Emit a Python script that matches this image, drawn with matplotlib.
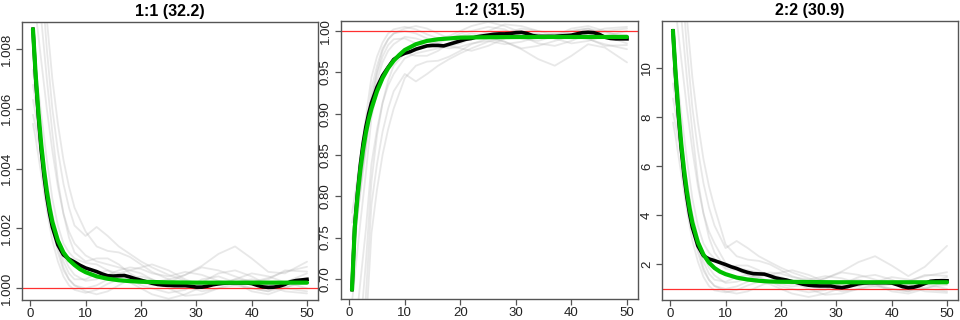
import matplotlib
matplotlib.use("Agg")
import matplotlib.pyplot as plt

plt.rcParams['font.family'] = ['Liberation Sans', 'DejaVu Sans']

titles = ["1:1 (32.2)", "1:2 (31.5)", "2:2 (30.9)"]

# ---------- main curves ----------
x_green = [0.5, 1, 1.5, 2, 2.5, 3, 3.5, 4, 5, 6, 7, 8, 9, 10, 12, 14, 16, 18, 20, 25, 30, 35, 40, 45, 50]
green_11 = [1.00866, 1.0071, 1.00585, 1.0048, 1.00395, 1.00325, 1.00268, 1.00222, 1.0016, 1.0012, 1.00095,
            1.00078, 1.00064, 1.00054, 1.0004, 1.00032, 1.00027, 1.00024, 1.00022, 1.0002, 1.00019, 1.00019,
            1.00019, 1.00019, 1.00019]
green_12 = [0.687, 0.762, 0.800, 0.832, 0.857, 0.877, 0.893, 0.906, 0.927, 0.943, 0.955, 0.964, 0.971, 0.977,
            0.984, 0.988, 0.990, 0.991, 0.992, 0.9925, 0.9927, 0.9928, 0.9928, 0.9928, 0.9928]
green_22 = [11.5, 9.7, 8.2, 6.9, 5.85, 4.98, 4.27, 3.7, 2.9, 2.4, 2.07, 1.85, 1.7, 1.6, 1.46, 1.38, 1.33, 1.3,
            1.29, 1.28, 1.27, 1.27, 1.27, 1.27, 1.27]

x_black = [0.5, 1, 1.5, 2, 2.5, 3, 3.5, 4, 5, 6, 7, 8, 9, 10, 11, 12, 13, 14, 15, 16, 17, 18, 19, 20, 21, 22,
           23, 24, 25, 26, 27, 28, 29, 30, 31, 32, 33, 34, 35, 36, 37, 38, 39, 40, 41, 42, 43, 44, 45, 46, 47,
           48, 49, 50]
black_11 = [1.00866, 1.0070, 1.0057, 1.0046, 1.00375, 1.00305, 1.0025, 1.00205, 1.00145, 1.00112, 1.00098,
            1.00088, 1.00077, 1.00068, 1.00062, 1.00056, 1.00048, 1.00042, 1.00041, 1.00042, 1.00043, 1.00038,
            1.00032, 1.00027, 1.00022, 1.00017, 1.00013, 1.00011, 1.0001, 1.00009, 1.00009, 1.00009, 1.00007,
            1.00004, 1.00004, 1.00007, 1.00012, 1.00015, 1.00017, 1.00018, 1.00018, 1.00018, 1.00018, 1.00016,
            1.0001, 1.00005, 1.00003, 1.00004, 1.00007, 1.00013, 1.00022, 1.00026, 1.00028, 1.0003]
black_12 = [0.687, 0.765, 0.805, 0.838, 0.864, 0.884, 0.900, 0.913, 0.932, 0.946, 0.956, 0.9655, 0.970, 0.973,
            0.975, 0.978, 0.980, 0.982, 0.9825, 0.9825, 0.982, 0.984, 0.986, 0.988, 0.990, 0.991, 0.993, 0.994,
            0.995, 0.996, 0.9965, 0.9965, 0.997, 0.998, 0.9984, 0.997, 0.9945, 0.9935, 0.9935, 0.9935, 0.9935,
            0.994, 0.9945, 0.995, 0.9965, 0.998, 0.9985, 0.998, 0.996, 0.9925, 0.991, 0.9905, 0.9905, 0.9905]
black_22 = [11.5, 9.6, 8.0, 6.7, 5.6, 4.75, 4.05, 3.5, 2.75, 2.35, 2.22, 2.15, 2.07, 1.99, 1.9, 1.83, 1.74,
            1.67, 1.62, 1.61, 1.6, 1.53, 1.45, 1.4, 1.36, 1.3, 1.25, 1.19, 1.15, 1.13, 1.12, 1.12, 1.12, 1.07,
            1.05, 1.09, 1.15, 1.21, 1.24, 1.25, 1.25, 1.25, 1.25, 1.24, 1.17, 1.09, 1.05, 1.07, 1.13, 1.22, 1.31,
            1.33, 1.33, 1.33]

# ---------- individual (gray) curves ----------
x_gray = [0.5, 1, 2, 3, 4, 5, 6, 7, 8, 10, 12, 14, 16, 18, 20, 22, 25, 28, 31, 34, 37, 40, 43, 46, 50]

gray_11_milli = [
    [14.0, 13.0, 10.5, 8.0, 6.0, 4.6, 3.5, 2.7, 2.1, 1.75, 2.05, 1.75, 1.4, 1.15, 0.9, 0.7, 0.45, 0.25, 0.1, 0.15, 0.3, 0.25, 0.1, 0.2, 0.35],
    [16.0, 14.5, 11.5, 9.0, 7.0, 5.5, 4.3, 3.4, 2.7, 1.9, 1.4, 1.25, 1.2, 1.05, 0.8, 0.55, 0.3, 0.45, 0.75, 1.15, 1.4, 1.0, 0.55, 0.5, 0.89],
    [7.3, 6.5, 4.8, 3.2, 2.0, 1.2, 0.6, 0.3, 0.1, 0.0, 0.1, 0.3, 0.5, 0.6, 0.5, 0.3, 0.0, -0.25, -0.2, 0.0, 0.2, 0.3, 0.2, 0.0, -0.1],
    [6.3, 5.8, 4.6, 3.5, 2.5, 1.7, 1.1, 0.7, 0.45, 0.25, 0.3, 0.45, 0.6, 0.7, 0.65, 0.5, 0.4, 0.55, 0.45, 0.25, 0.1, 0.2, 0.35, 0.55, 0.72],
    [5.5, 5.0, 3.8, 2.6, 1.6, 0.9, 0.4, 0.1, -0.05, -0.15, -0.05, 0.15, 0.3, 0.2, 0.0, -0.2, -0.35, -0.2, 0.05, 0.25, 0.2, 0.0, -0.1, 0.05, 0.17],
    [10.0, 9.2, 7.6, 6.0, 4.6, 3.4, 2.5, 1.9, 1.5, 1.1, 0.9, 0.8, 0.7, 0.6, 0.7, 0.8, 0.6, 0.3, 0.1, 0.1, 0.3, 0.5, 0.4, 0.2, 0.0],
    [8.2, 7.4, 5.8, 4.3, 3.0, 2.1, 1.5, 1.2, 1.0, 0.85, 0.8, 0.6, 0.4, 0.3, 0.2, 0.1, 0.2, 0.45, 0.7, 0.6, 0.4, 0.2, 0.3, 0.6, 0.56],
    [6.8, 6.2, 4.9, 3.6, 2.4, 1.4, 0.7, 0.3, 0.1, -0.1, -0.2, -0.1, 0.1, 0.3, 0.4, 0.3, 0.1, 0.0, 0.2, 0.5, 0.6, 0.4, 0.1, -0.1, -0.17],
    [11.0, 10.5, 9.0, 7.0, 5.2, 3.6, 2.5, 1.7, 1.2, 0.9, 1.0, 1.0, 0.8, 0.5, 0.3, 0.2, 0.3, 0.1, -0.1, 0.0, 0.1, 0.0, -0.1, 0.2, 0.5],
    [5.8, 5.4, 4.4, 3.3, 2.3, 1.5, 0.9, 0.5, 0.3, 0.3, 0.5, 0.6, 0.5, 0.3, 0.1, 0.0, -0.15, -0.05, 0.3, 0.4, 0.2, -0.1, -0.2, 0.0, 0.33],
]

gray_12 = [
    [0.44, 0.48, 0.58, 0.68, 0.79, 0.839, 0.878, 0.906, 0.927, 0.948, 0.939, 0.948, 0.958, 0.966, 0.973, 0.979, 0.987, 0.993, 0.997, 0.996, 0.991, 0.993, 0.997, 0.994, 0.990],
    [0.36, 0.42, 0.54, 0.64, 0.755, 0.808, 0.85, 0.881, 0.906, 0.943, 0.958, 0.963, 0.964, 0.969, 0.976, 0.984, 0.991, 0.987, 0.978, 0.966, 0.958, 0.970, 0.984, 0.980, 0.962],
    [0.708, 0.74, 0.808, 0.872, 0.93, 0.958, 0.979, 0.990, 0.997, 1.0, 0.997, 0.991, 0.985, 0.982, 0.985, 0.991, 1.0, 1.008, 1.006, 1.0, 0.994, 0.991, 0.994, 1.0, 1.003],
    [0.748, 0.768, 0.816, 0.86, 0.913, 0.94, 0.962, 0.976, 0.984, 0.993, 0.991, 0.987, 0.982, 0.979, 0.981, 0.985, 0.988, 0.984, 0.987, 0.993, 0.997, 0.994, 0.990, 0.984, 0.978],
    [0.78, 0.8, 0.848, 0.896, 0.944, 0.969, 0.986, 0.997, 1.002, 1.005, 1.002, 0.996, 0.991, 0.994, 1.0, 1.006, 1.011, 1.006, 0.998, 0.993, 0.994, 1.0, 1.003, 0.998, 0.995],
    [0.6, 0.632, 0.696, 0.76, 0.839, 0.881, 0.913, 0.934, 0.948, 0.967, 0.973, 0.976, 0.979, 0.982, 0.979, 0.976, 0.982, 0.991, 0.997, 0.997, 0.991, 0.985, 0.988, 0.994, 1.0],
    [0.672, 0.704, 0.768, 0.828, 0.895, 0.927, 0.948, 0.958, 0.965, 0.975, 0.976, 0.982, 0.988, 0.991, 0.994, 0.997, 0.994, 0.987, 0.979, 0.982, 0.988, 0.994, 0.991, 0.982, 0.983],
    [0.728, 0.752, 0.804, 0.856, 0.916, 0.951, 0.976, 0.990, 0.997, 1.003, 1.006, 1.003, 0.997, 0.991, 0.988, 0.991, 0.997, 1.0, 0.994, 0.985, 0.982, 0.988, 0.997, 1.003, 1.005],
    [0.56, 0.58, 0.64, 0.72, 0.818, 0.874, 0.913, 0.94, 0.958, 0.973, 0.97, 0.97, 0.976, 0.985, 0.991, 0.994, 0.991, 0.997, 1.003, 1.0, 0.997, 1.0, 1.003, 0.994, 0.985],
    [0.768, 0.784, 0.824, 0.868, 0.92, 0.948, 0.969, 0.983, 0.990, 0.991, 0.985, 0.982, 0.985, 0.991, 0.997, 1.0, 1.005, 1.002, 0.991, 0.988, 0.994, 1.003, 1.006, 1.0, 0.99],
]

gray_22 = [
    [18.22, 16.99, 13.92, 10.84, 8.38, 6.66, 5.31, 4.32, 3.58, 2.66, 2.95, 2.66, 2.33, 2.09, 1.86, 1.67, 1.43, 1.24, 1.10, 1.14, 1.29, 1.24, 1.10, 1.19, 1.33],
    [20.68, 18.84, 15.15, 12.07, 9.61, 7.77, 6.29, 5.18, 4.32, 2.81, 2.33, 2.19, 2.14, 2.0, 1.76, 1.52, 1.29, 1.43, 1.71, 2.09, 2.33, 1.95, 1.52, 1.9, 2.75],
    [9.98, 9.0, 6.9, 4.94, 3.46, 2.48, 1.74, 1.37, 1.12, 1.0, 1.1, 1.29, 1.48, 1.57, 1.48, 1.29, 1.0, 0.76, 0.81, 1.0, 1.19, 1.29, 1.19, 1.0, 0.9],
    [8.75, 8.13, 6.66, 5.31, 4.08, 3.09, 2.35, 1.86, 1.55, 1.24, 1.29, 1.43, 1.57, 1.67, 1.62, 1.48, 1.38, 1.52, 1.43, 1.24, 1.1, 1.19, 1.33, 1.52, 1.68],
    [7.77, 7.15, 5.67, 4.2, 2.97, 2.11, 1.49, 1.12, 0.94, 0.86, 0.95, 1.14, 1.29, 1.19, 1.0, 0.81, 0.67, 0.81, 1.05, 1.24, 1.19, 1.0, 0.9, 1.05, 1.16],
    [13.3, 12.32, 10.35, 8.38, 6.66, 5.18, 4.08, 3.34, 2.85, 2.05, 1.86, 1.76, 1.67, 1.57, 1.67, 1.76, 1.57, 1.29, 1.1, 1.1, 1.29, 1.48, 1.38, 1.19, 1.0],
    [11.09, 10.1, 8.13, 6.29, 4.69, 3.58, 2.85, 2.48, 2.23, 1.81, 1.76, 1.57, 1.38, 1.29, 1.19, 1.1, 1.19, 1.43, 1.67, 1.57, 1.38, 1.19, 1.29, 1.57, 1.53],
    [9.36, 8.63, 7.03, 5.43, 3.95, 2.72, 1.86, 1.37, 1.12, 0.9, 0.81, 0.9, 1.1, 1.29, 1.38, 1.29, 1.1, 1.0, 1.19, 1.48, 1.57, 1.38, 1.1, 0.9, 0.84],
    [14.53, 13.92, 12.07, 9.61, 7.4, 5.43, 4.08, 3.09, 2.48, 1.86, 1.95, 1.95, 1.76, 1.48, 1.29, 1.19, 1.29, 1.1, 0.9, 1.0, 1.1, 1.0, 0.9, 1.19, 1.48],
    [8.13, 7.64, 6.41, 5.06, 3.83, 2.85, 2.11, 1.62, 1.37, 1.29, 1.48, 1.57, 1.48, 1.29, 1.1, 1.0, 0.86, 0.95, 1.29, 1.38, 1.19, 0.9, 0.81, 1.0, 1.31],
]

x_ticks = [0, 10, 20, 30, 40, 50]
y_ticks_11 = [1.000, 1.002, 1.004, 1.006, 1.008]
y_ticks_12 = [0.70, 0.75, 0.80, 0.85, 0.90, 0.95, 1.00]
y_ticks_22 = [2, 4, 6, 8, 10]
ref_value = 1.0

gray_11 = [[1 + v / 1000.0 for v in row] for row in gray_11_milli]

panels = [
    dict(title=titles[0], gray=gray_11, black=black_11, green=green_11, yt=y_ticks_11, fmt="{:.3f}",
         ylim=(0.99961, 1.0089), rect=[22 / 960, 20 / 320, 296 / 960, 278 / 320]),
    dict(title=titles[1], gray=gray_12, black=black_12, green=green_12, yt=y_ticks_12, fmt="{:.2f}",
         ylim=(0.6757, 1.0121), rect=[341 / 960, 21 / 320, 297 / 960, 278 / 320]),
    dict(title=titles[2], gray=gray_22, black=black_22, green=green_22, yt=y_ticks_22, fmt="{:g}",
         ylim=(0.548, 11.90), rect=[662 / 960, 20 / 320, 296 / 960, 279 / 320]),
]

fig = plt.figure(figsize=(9.6, 3.2), dpi=100)
frame_col = "#555555"
for p in panels:
    ax = fig.add_axes(p["rect"])
    for row in p["gray"]:
        ax.plot(x_gray, row, color="#b4b4b4", alpha=0.3, lw=1.3, solid_joinstyle="round",
                solid_capstyle="round", zorder=1)
    ax.axhline(ref_value, color="#ff3030", lw=0.9, zorder=2)
    ax.plot(x_black, p["black"], color="black", lw=2.6, solid_joinstyle="round", zorder=3)
    ax.plot(x_green, p["green"], color="#00c000", lw=3.0, solid_capstyle="round", zorder=4)
    ax.set_xlim(-1.48, 51.98)
    ax.set_ylim(*p["ylim"])
    ax.set_xticks(x_ticks)
    ax.set_xticklabels([str(t) for t in x_ticks])
    ax.set_yticks(p["yt"])
    ax.set_yticklabels([p["fmt"].format(t) for t in p["yt"]], rotation=90, va="center")
    ax.tick_params(axis="both", direction="out", length=4, width=0.9, color=frame_col,
                   labelsize=9.5, labelcolor="#222222")
    ax.tick_params(axis="x", pad=2)
    ax.tick_params(axis="y", pad=2.5)
    for s in ax.spines.values():
        s.set_color(frame_col)
        s.set_linewidth(1.0)
    ax.set_title(p["title"], fontsize=11.5, fontweight="bold", pad=4)

fig.savefig("out.png", dpi=100)
